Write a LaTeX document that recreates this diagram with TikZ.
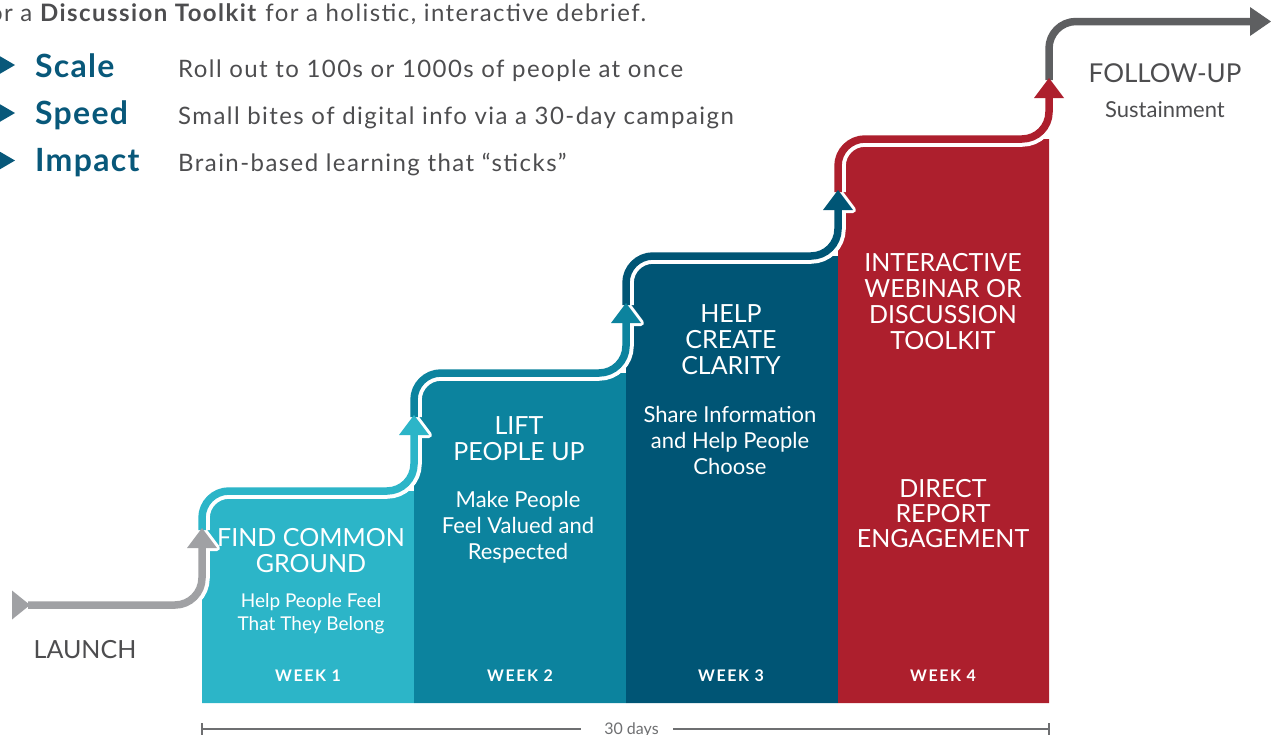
\documentclass[tikz,border=0pt]{standalone}
\usepackage{fontspec}
\setmainfont{Lato}
\newfontfamily\weekfont[LetterSpace=10]{Lato}
\newfontfamily\bodyfont[LetterSpace=6]{Lato}
\newfontfamily\keyfont[LetterSpace=4]{Lato}
\definecolor{cA}{RGB}{44,181,200}
\definecolor{cB}{RGB}{12,131,158}
\definecolor{cC}{RGB}{0,85,117}
\definecolor{cD}{RGB}{173,31,45}
\definecolor{gLaunch}{RGB}{160,161,164}
\definecolor{gFollow}{RGB}{94,95,97}
\definecolor{txtgray}{RGB}{77,77,79}
\definecolor{keyteal}{RGB}{8,88,122}
\definecolor{barGray}{RGB}{110,111,113}
\tikzset{
  halo/.style={white, line width=15.5pt, rounded corners=27pt},
  seg/.style={line width=7.5pt, rounded corners=27pt},
  ahalo/.style={draw=white, fill=white, line width=6pt, line join=round},
  ttl/.style={text=white, font=\fontsize{25}{26}\selectfont, align=center, anchor=north, inner sep=0pt},
  sub/.style={text=white, font=\fontsize{22}{26}\selectfont, align=center, anchor=north, inner sep=0pt},
  wk/.style={text=white, font=\weekfont\bfseries\fontsize{16}{18}\selectfont, anchor=base, inner sep=0pt},
  body/.style={text=txtgray, font=\bodyfont\fontsize{24}{28}\selectfont, anchor=base west, inner sep=0pt},
  keyw/.style={text=keyteal, font=\keyfont\bfseries\fontsize{32}{34}\selectfont, anchor=base west, inner sep=0pt},
  lbl/.style={text=txtgray, anchor=base, inner sep=0pt},
}
\begin{document}
\begin{tikzpicture}[x=1pt,y=-1pt]
\useasboundingbox (0,0) rectangle (1271,734);

% column fills
\fill[cA] (202,703) -- (202,518) .. controls (202,503.1) and (214.1,491) .. (229,491) -- (414,491) -- (414,703) -- cycle;
\fill[cB] (414,703) -- (414,400) .. controls (414,385.1) and (426.1,373) .. (441,373) -- (626,373) -- (626,703) -- cycle;
\fill[cC] (626,703) -- (626,283) .. controls (626,268.1) and (638.1,256) .. (653,256) -- (838,256) -- (838,703) -- cycle;
\fill[cD] (838,703) -- (838,166) .. controls (838,151.1) and (850.1,139) .. (865,139) -- (1049,139) -- (1049,703) -- cycle;

% path coordinates
\coordinate (L0) at (28,605);  \coordinate (L1) at (202,605); \coordinate (L2) at (202,546);
\coordinate (A0) at (202,528);
\coordinate (P1a) at (202,530); \coordinate (P1b) at (202,491); \coordinate (P1c) at (414,491); \coordinate (P1d) at (414,433);
\coordinate (A1) at (414,415);
\coordinate (P2a) at (414,417); \coordinate (P2b) at (414,373); \coordinate (P2c) at (626,373); \coordinate (P2d) at (626,321);
\coordinate (A2) at (626,303);
\coordinate (P3a) at (626,305); \coordinate (P3b) at (626,256); \coordinate (P3c) at (838,256); \coordinate (P3d) at (838,208);
\coordinate (A3) at (838,190);
\coordinate (P4a) at (838,192); \coordinate (P4b) at (838,139); \coordinate (P4c) at (1049,139); \coordinate (P4d) at (1049,96);
\coordinate (A4) at (1049,78);
\coordinate (F0) at (1049,80); \coordinate (F1) at (1049,21.5); \coordinate (F2) at (1252,21.5);
\coordinate (FA) at (1271,21.5);

% white halos
\draw[halo] (L0) -- (L1) -- (L2);
\draw[halo] (P1a) -- (P1b) -- (P1c) -- (P1d);
\draw[halo] (P2a) -- (P2b) -- (P2c) -- (P2d);
\draw[halo] (P3a) -- (P3b) -- (P3c) -- (P3d);
\draw[halo] (P4a) -- (P4b) -- (P4c) -- (P4d);
\draw[halo] (F0) -- (F1) -- (F2);
\foreach \t in {A0,A1,A2,A3,A4}{
  \draw[ahalo] (\t) -- ++(15,20) -- ++(-30,0) -- cycle;
}

% coloured strokes
\draw[seg, gLaunch] (L0) -- (L1) -- (L2);
\draw[seg, cA] (P1a) -- (P1b) -- (P1c) -- (P1d);
\draw[seg, cB] (P2a) -- (P2b) -- (P2c) -- (P2d);
\draw[seg, cC] (P3a) -- (P3b) -- (P3c) -- (P3d);
\draw[seg, cD] (P4a) -- (P4b) -- (P4c) -- (P4d);
\draw[seg, gFollow] (F0) -- (F1) -- (F2);

% arrowheads
\fill[gLaunch] (A0) -- ++(15,20) -- ++(-30,0) -- cycle;
\fill[cA] (A1) -- ++(15,20) -- ++(-30,0) -- cycle;
\fill[cB] (A2) -- ++(15,20) -- ++(-30,0) -- cycle;
\fill[cC] (A3) -- ++(15,20) -- ++(-30,0) -- cycle;
\fill[cD] (A4) -- ++(15,20) -- ++(-30,0) -- cycle;
\fill[gFollow] (FA) -- (1250,7) -- (1250,36) -- cycle;
\fill[gLaunch] (12,590.5) -- (30,605) -- (12,619.5) -- cycle;

% header text
\node[body] (intro) at (40,21) {\textbf{Discussion Toolkit} for a holistic, interactive debrief.};
\node[body, anchor=base east] (introA) at ([xshift=-7.5pt]intro.base west) {or a};
\fill[keyteal] (-3,54.5) -- (15,65) -- (-3,75.5) -- cycle;
\fill[keyteal] (-3,102.5) -- (15,113) -- (-3,123.5) -- cycle;
\fill[keyteal] (-3,150) -- (15,160.5) -- (-3,171) -- cycle;
\node[keyw] (kScale) at (35,77) {Scale};
\node[keyw] (kSpeed) at (35,124) {Speed};
\node[keyw] (kImpact) at (35,171.5) {Impact};
\node[body] (dScale) at (178,77) {Roll out to 100s or 1000s of people at once};
\node[body] (dSpeed) at (178,124) {Small bites of digital info via a 30-day campaign};
\node[body] (dImpact) at (178,171.5) {Brain-based learning that “sticks”};

% column texts
\node[ttl] (t1) at (311,528) {FIND COMMON\\GROUND};
\node[sub, font=\fontsize{19}{23}\selectfont] (s1) at (311,593) {Help People Feel\\That They Belong};
\node[ttl] (t2) at (519,416) {LIFT\\PEOPLE UP};
\node[sub] (s2) at (518,491) {Make People\\Feel Valued and\\Respected};
\node[ttl] (t3) at (731,304) {HELP\\CREATE\\CLARITY};
\node[sub] (s3) at (730,406) {Share Information\\and Help People\\Choose};
\node[ttl] (t4) at (943,253) {INTERACTIVE\\WEBINAR OR\\DISCUSSION\\TOOLKIT};
\node[ttl, font=\fontsize{25}{25.2}\selectfont] (t4b) at (943,479) {DIRECT\\REPORT\\ENGAGEMENT};

\node[wk] (w1) at (308,681.5) {WEEK 1};
\node[wk] (w2) at (520,681.5) {WEEK 2};
\node[wk] (w3) at (731,681.5) {WEEK 3};
\node[wk] (w4) at (943,681.5) {WEEK 4};

% launch / follow-up
\node[lbl, font=\fontsize{25}{28}\selectfont] (launch) at (85,658.5) {LAUNCH};
\node[lbl, font=\fontsize{26}{28}\selectfont] (follow) at (1165,82.5) {FOLLOW-UP};
\node[lbl, font=\fontsize{22}{24}\selectfont] (sustain) at (1165,117) {Sustainment};

% 30 days bar
\coordinate (dL) at (202,728.5);
\coordinate (dR) at (1049,728.5);
\node[lbl, font=\fontsize{16}{18}\selectfont, text=barGray] (days) at (631.5,734.5) {30 days};
\draw[barGray, line width=2pt] (dL) -- (581,728.5);
\draw[barGray, line width=2pt] (673,728.5) -- (dR);
\draw[barGray, line width=2pt] ([yshift=-6.5pt]dL) -- ([yshift=6pt]dL);
\draw[barGray, line width=2pt] ([yshift=-6.5pt]dR) -- ([yshift=6pt]dR);
\end{tikzpicture}
\end{document}
